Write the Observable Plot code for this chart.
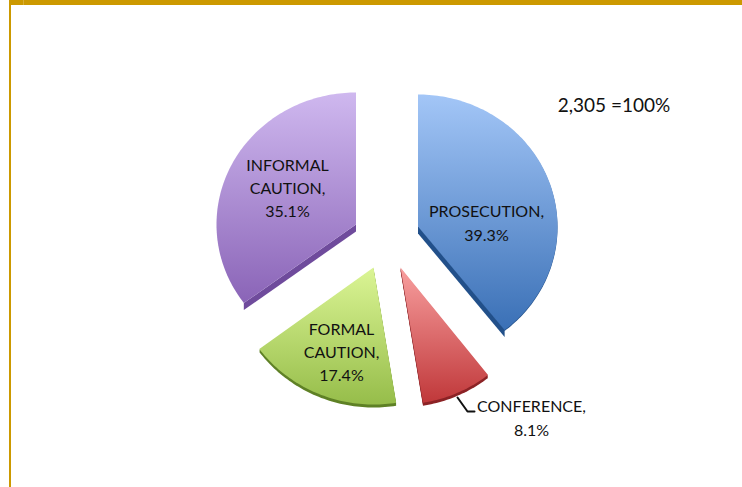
<!DOCTYPE html>
<html>
<head>
<meta charset="utf-8">
<script src="https://cdn.jsdelivr.net/npm/d3@7"></script>
<script src="https://cdn.jsdelivr.net/npm/@observablehq/plot@0.6"></script>
<style>
  html, body { margin: 0; padding: 0; background: #fff; overflow: hidden; }
  #frame-top { position: absolute; left: 9px; right: 0; top: 0; height: 5px; background: #cc9900; z-index: 2; }
  #frame-left { position: absolute; left: 9px; top: 0; bottom: 0; width: 2px; background: #cc9900; z-index: 2; }
  #frame-mark { position: absolute; left: 23px; top: 0; height: 5px; width: 1px; background: #d8ae33; z-index: 3; }
</style>
</head>
<body>
<div id="frame-top"></div><div id="frame-left"></div><div id="frame-mark"></div>
<div id="chart"></div>
<script>
// Data
const categories = ["PROSECUTION", "CONFERENCE", "FORMAL CAUTION", "INFORMAL CAUTION"];
const shares = [39.3, 8.1, 17.4, 35.1];
const labelTexts = ["PROSECUTION,\n39.3%", "CONFERENCE,\n8.1%", "FORMAL\nCAUTION,\n17.4%", "INFORMAL\nCAUTION,\n35.1%"];
const totalNote = "2,305 =100%";

// Layout
const tipX = [417.5, 400, 373, 355.5];
const tipY = [226, 267, 267, 224];
const labelX = [486, 531, 341, 287];
const labelY = [221, 416, 350, 186];
const radiusX = [139.5, 141, 142, 139.5];
const radiusY = [132, 137, 137, 132];
const rimDepth = [1, 3, 3, 0];
const bandDepth = 7;
const bandEdge = ["end", null, null, "start"];
const topColors = ["#a3c6f7", "#f89f9f", "#dbf595", "#cfb8ef"];
const bottomColors = ["#3a70b6", "#c0383a", "#96bd4a", "#8a64b7"];
const sideColors = ["#22508a", "#8c2326", "#5f8126", "#6f4b9c"];

// Slices: angles come from the shares
const arcs = d3.pie().sort(null).value(d => d)(shares);
const slices = arcs.map((a, i) => {
  const steps = Math.ceil((a.endAngle - a.startAngle) / 0.02);
  const pts = [{x: tipX[i], y: tipY[i]}];
  for (let s = 0; s <= steps; s++) {
    const t = a.startAngle + (a.endAngle - a.startAngle) * s / steps;
    pts.push({x: tipX[i] + radiusX[i] * Math.sin(t), y: tipY[i] - radiusY[i] * Math.cos(t)});
  }
  return pts;
});

const labels = labelTexts.map((text, i) => ({text, x: labelX[i], y: labelY[i]}));

const defs = () => {
  const d = d3.create("svg:defs");
  categories.forEach((c, i) => {
    const g = d.append("linearGradient").attr("id", "grad" + i)
      .attr("x1", 0).attr("y1", 0).attr("x2", 0).attr("y2", 1);
    g.append("stop").attr("offset", "0%").attr("stop-color", topColors[i]);
    g.append("stop").attr("offset", "100%").attr("stop-color", bottomColors[i]);
  });
  return d.node();
};

const sliceMarks = slices.flatMap((pts, i) => {
  const marks = [];
  if (bandEdge[i]) {
    const tip = pts[0];
    const edge = bandEdge[i] === "end" ? pts[pts.length - 1] : pts[1];
    const band = [tip, edge, {x: edge.x, y: edge.y + bandDepth}, {x: tip.x, y: tip.y + bandDepth}];
    marks.push(Plot.line(band, {x: "x", y: "y", fill: sideColors[i], stroke: "none"}));
  }
  for (let dy = rimDepth[i]; dy > 0; dy--) {
    marks.push(Plot.line(pts, {x: "x", y: "y", fill: sideColors[i], stroke: "none", dy}));
  }
  marks.push(Plot.line(pts, {x: "x", y: "y", fill: `url(#grad${i})`, stroke: "none"}));
  return marks;
});

const leaderX = [457, 467, 474];
const leaderY = [397, 411, 411];
const leader = leaderX.map((x, i) => ({x, y: leaderY[i]}));

const chart = Plot.plot({
  width: 742,
  height: 487,
  margin: 0,
  x: {domain: [0, 742], range: [0, 742], axis: null},
  y: {domain: [0, 487], range: [0, 487], axis: null},
  marks: [
    defs,
    ...sliceMarks,
    Plot.line(leader, {x: "x", y: "y", stroke: "#111", strokeWidth: 2}),
    Plot.text(labels, {
      x: "x", y: "y", text: "text", fontSize: 16, lineHeight: 1.46,
      fontFamily: "Lato, 'Open Sans', sans-serif", fill: "#111", textAnchor: "middle"
    }),
    Plot.text([totalNote], {
      x: [613.5], y: [105.5], text: d => d, fontSize: 19,
      fontFamily: "Lato, 'Open Sans', sans-serif", fill: "#111", textAnchor: "middle"
    })
  ]
});
chart.style.display = "block";
document.getElementById("chart").appendChild(chart);
</script>
</body>
</html>
